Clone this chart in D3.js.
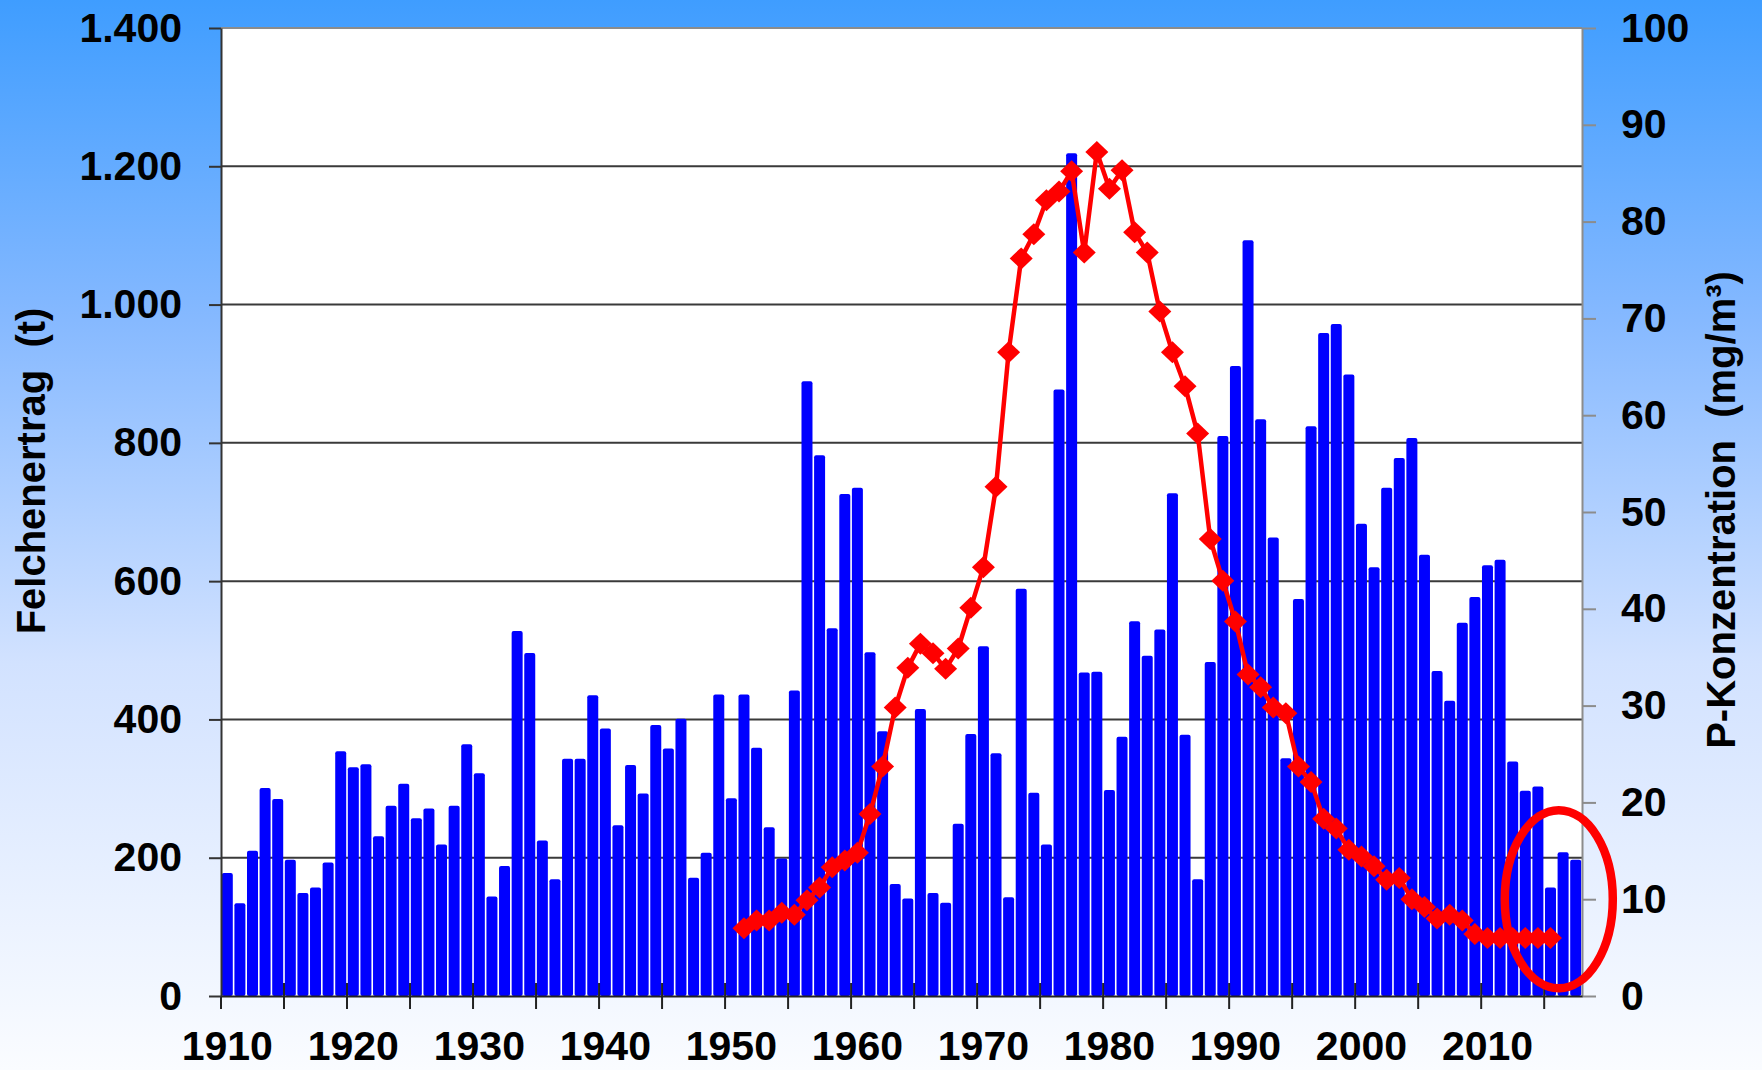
<!DOCTYPE html>
<html>
<head>
  <meta charset="utf-8">
  <title>Felchenertrag und P-Konzentration</title>
  <script src="https://cdn.jsdelivr.net/npm/d3@7"></script>
  <style>
    body { margin: 0; }
    text { font-family: "Liberation Sans", Arial, sans-serif; font-weight: bold; fill: #000; }
  </style>
</head>
<body>
<script>
var breite = 1762;
var hoehe = 1070;
// Zeichenfläche des Diagramms
var rand = {links: 221, rechts: 1582, oben: 28, unten: 996};

// Jahre der Balken
var jahre = d3.range(1910, 2018);
// Felchenertrag in Tonnen, 1910 - 2017
var felchen = [
  178, 134, 210, 301, 285, 197, 149, 157, 193, 354,
  331, 335, 231, 275, 307, 257, 271, 219, 275, 364,
  322, 144, 188, 528, 496, 225, 169, 343, 343, 435,
  387, 247, 334, 293, 392, 358, 401, 171, 207, 436,
  286, 436, 359, 244, 199, 442, 889, 782, 532, 726,
  735, 497, 383, 162, 141, 415, 149, 135, 249, 379,
  506, 351, 143, 589, 294, 219, 877, 1219, 468, 469,
  298, 375, 542, 492, 530, 727, 378, 169, 483, 810,
  911, 1093, 834, 663, 344, 574, 824, 959, 972, 899,
  683, 620, 735, 778, 807, 638, 470, 427, 540, 577,
  623, 631, 339, 297, 303, 157, 208, 197
];

// P-Konzentration in mg/m3, 1951 - 2015
var pJahre = d3.range(1951, 2016);
var pWerte = [
  7.0, 7.8, 7.8, 8.6, 8.4, 9.9, 11.2, 13.3, 14.0,
  14.8, 18.8, 23.7, 29.8, 33.9, 36.4, 35.4, 33.8, 35.9, 40.1,
  44.3, 52.6, 66.5, 76.2, 78.7, 82.2, 83.1, 85.2, 76.8, 87.2,
  83.4, 85.3, 78.9, 76.8, 70.7, 66.5, 63.0, 58.1, 47.2, 42.9,
  38.7, 33.2, 31.9, 29.8, 29.2, 23.7, 22.1, 18.3, 17.3, 15.1,
  14.4, 13.4, 12.0, 12.2, 10.0, 9.2, 8.0, 8.4, 7.8, 6.4,
  6.0, 6.0, 6.0, 6.0, 6.0, 6.0
];

// Achsenbeschriftungen
var linksTicks = [0, 200, 400, 600, 800, 1000, 1200, 1400];
var rechtsTicks = [0, 10, 20, 30, 40, 50, 60, 70, 80, 90, 100];
var jahrLabels = [1910, 1920, 1930, 1940, 1950, 1960, 1970, 1980, 1990, 2000, 2010];
var jahrStriche = [1910, 1915, 1920, 1925, 1930, 1935, 1940, 1945, 1950, 1955, 1960,
                   1965, 1970, 1975, 1980, 1985, 1990, 1995, 2000, 2005, 2010, 2015];

// Deutsche Zahlenformatierung (1.400)
var deFormat = d3.formatLocale({decimal: ",", thousands: ".", grouping: [3], currency: ["", " €"]}).format(",");

var svg = d3.select("body")
            .append("svg")
            .attr("width", breite)
            .attr("height", hoehe);

// Hintergrundverlauf
var grad = svg.append("defs").append("linearGradient")
              .attr("id", "hintergrund")
              .attr("x1", 0).attr("y1", 0).attr("x2", 0).attr("y2", 1);
grad.append("stop").attr("offset", "0%").attr("stop-color", "#3f9dff");
grad.append("stop").attr("offset", "30%").attr("stop-color", "#86b9ff");
grad.append("stop").attr("offset", "62%").attr("stop-color", "#d2e2ff");
grad.append("stop").attr("offset", "100%").attr("stop-color", "#fafcff");

svg.append("rect")
   .attr("width", breite).attr("height", hoehe)
   .attr("fill", "url(#hintergrund)");

svg.append("rect")
   .attr("x", rand.links).attr("y", rand.oben)
   .attr("width", rand.rechts - rand.links)
   .attr("height", rand.unten - rand.oben)
   .attr("fill", "#fff");

// Skalen
var x = d3.scaleBand().domain(jahre).range([rand.links, rand.rechts]).padding(0);
var yL = d3.scaleLinear().domain([0, 1400]).range([rand.unten, rand.oben]);
var yR = d3.scaleLinear().domain([0, 100]).range([rand.unten, rand.oben]);
var bw = x.bandwidth();

// Gitternetzlinien
svg.append("g").selectAll("line")
   .data(linksTicks.filter(function(d) { return d > 0; }))
   .enter().append("line")
   .attr("x1", rand.links).attr("x2", rand.rechts)
   .attr("y1", function(d) { return yL(d); })
   .attr("y2", function(d) { return yL(d); })
   .attr("stroke", function(d) { return d == 1400 ? "#8c8c8c" : "#3a3a3a"; })
   .attr("stroke-width", 2);

// Balken Felchenertrag
svg.append("g").selectAll("rect")
   .data(felchen)
   .enter().append("rect")
   .attr("x", function(d, i) { return x(jahre[i]) + 0.8; })
   .attr("width", bw - 1.6)
   .attr("y", function(d) { return yL(d); })
   .attr("height", function(d) { return rand.unten - yL(d); })
   .attr("rx", 2)
   .attr("fill", "#0000ff");

// Striche der x-Achse
svg.append("g").selectAll("line")
   .data(jahrStriche)
   .enter().append("line")
   .attr("x1", function(d) { return x(d); })
   .attr("x2", function(d) { return x(d); })
   .attr("y1", function(d) { return d == 1910 ? rand.unten : rand.unten - 13; })
   .attr("y2", rand.unten + 13)
   .attr("stroke", "#222")
   .attr("stroke-width", 2);

// Linke Achse
var achseL = svg.append("g")
   .attr("transform", "translate(" + rand.links + ",0)")
   .call(d3.axisLeft(yL).tickValues(linksTicks).tickFormat(deFormat)
           .tickSize(12).tickSizeOuter(0).tickPadding(27));
achseL.select(".domain").attr("stroke", "#333").attr("stroke-width", 2);
achseL.selectAll(".tick line").attr("stroke", "#333").attr("stroke-width", 2);
achseL.selectAll("text").style("font-size", "41px").attr("fill", "#000");

// Rechte Achse
var achseR = svg.append("g")
   .attr("transform", "translate(" + rand.rechts + ",0)")
   .call(d3.axisRight(yR).tickValues(rechtsTicks)
           .tickSize(14).tickSizeOuter(0).tickPadding(25));
achseR.select(".domain").attr("stroke", "#8c8c8c").attr("stroke-width", 2);
achseR.selectAll(".tick line").attr("stroke", "#8c8c8c").attr("stroke-width", 2);
achseR.selectAll("text").style("font-size", "41px").attr("fill", "#000");

// Untere Achse mit Jahreszahlen
var achseU = svg.append("g")
   .attr("transform", "translate(0," + rand.unten + ")")
   .call(d3.axisBottom(x).tickValues(jahrLabels)
           .tickSize(0).tickSizeOuter(0).tickPadding(35));
achseU.select(".domain").attr("stroke", "#222").attr("stroke-width", 2);
achseU.selectAll("text").style("font-size", "41px").attr("fill", "#000");

// Linie P-Konzentration
var pDaten = pWerte.map(function(w, i) { return {jahr: pJahre[i], wert: w}; });
var linie = d3.line()
   .x(function(d) { return x(d.jahr) + bw / 2; })
   .y(function(d) { return yR(d.wert); });

svg.append("path")
   .datum(pDaten)
   .attr("d", linie)
   .attr("fill", "none")
   .attr("stroke", "#ff0000")
   .attr("stroke-width", 4.5)
   .attr("stroke-linejoin", "round");

// Rauten als Marker
svg.append("g").selectAll("path")
   .data(pDaten)
   .enter().append("path")
   .attr("d", "M0,-11L11.5,0L0,11L-11.5,0Z")
   .attr("transform", function(d) { return "translate(" + (x(d.jahr) + bw / 2) + "," + yR(d.wert) + ")"; })
   .attr("fill", "#ff0000");

// Markierung der letzten Jahre
svg.append("ellipse")
   .attr("cx", x(2016) + 2)
   .attr("cy", yR(10.0))
   .attr("rx", 54)
   .attr("ry", yR(0.8) - yR(10.0))
   .attr("fill", "none")
   .attr("stroke", "#ff0000")
   .attr("stroke-width", 8.5);

// Achsentitel
svg.append("text")
   .attr("transform", "translate(45,471) rotate(-90)")
   .attr("text-anchor", "middle")
   .style("font-size", "40px")
   .style("white-space", "pre")
   .text("Felchenertrag  (t)");

svg.append("text")
   .attr("transform", "translate(1735,510) rotate(-90)")
   .attr("text-anchor", "middle")
   .style("font-size", "40px")
   .style("white-space", "pre")
   .text("P-Konzentration  (mg/m³)");
</script>
</body>
</html>
